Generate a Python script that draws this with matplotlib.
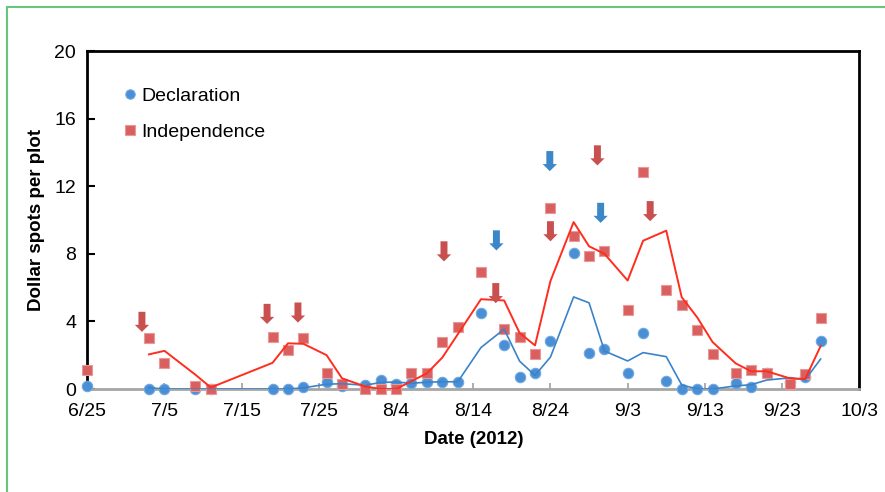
import matplotlib
matplotlib.use("Agg")
import matplotlib.pyplot as plt
import matplotlib.dates as mdates
from matplotlib.patches import FancyArrow
from matplotlib.lines import Line2D
import pandas as pd

plt.rcParams["font.family"] = ["Liberation Sans", "DejaVu Sans"]

# ── Data ──────────────────────────────────────────────────────────────────────
dates = ["2012-06-25", "2012-07-03", "2012-07-05", "2012-07-09", "2012-07-11",
         "2012-07-19", "2012-07-21", "2012-07-23", "2012-07-26", "2012-07-28",
         "2012-07-31", "2012-08-02", "2012-08-04", "2012-08-06", "2012-08-08",
         "2012-08-10", "2012-08-12", "2012-08-15", "2012-08-18", "2012-08-20",
         "2012-08-22", "2012-08-24", "2012-08-27", "2012-08-29", "2012-08-31",
         "2012-09-03", "2012-09-05", "2012-09-08", "2012-09-10", "2012-09-12",
         "2012-09-14", "2012-09-17", "2012-09-19", "2012-09-21", "2012-09-24",
         "2012-09-26", "2012-09-28"]

declaration = [0.15, 0, 0, 0, 0, 0, 0, 0.14, 0.43, 0.2,
               0.25, 0.53, 0.3, 0.38, 0.43, 0.43, 0.43, 4.48, 2.61, 0.69,
               0.93, 2.85, 8.05, 2.15, 2.35, 0.97, 3.34, 0.49, 0, 0,
               0, 0.37, 0.14, 0.92, 0.4, 0.7, 2.85]

independence = [1.1, 3.0, 1.52, 0.18, 0, 3.1, 2.31, 3.04, 0.97, 0.3,
                0, 0, 0, 0.93, 0.93, 2.8, 3.69, 6.94, 3.54, 3.1,
                2.06, 10.72, 9.04, 7.85, 8.15, 4.69, 12.86, 5.88, 4.99, 3.5,
                2.06, 0.97, 1.13, 0.97, 0.3, 0.89, 4.2]

# application arrows: date and value at the arrow's top end
red_arrow_dates = ["2012-07-02 02:00", "2012-07-18 07:00", "2012-07-22 07:00",
                   "2012-08-10 05:00", "2012-08-16 22:00", "2012-08-24",
                   "2012-08-30 02:00", "2012-09-05 22:00"]
red_arrow_tops = [4.57, 5.04, 5.12, 8.74, 6.27, 9.93, 14.42, 11.12]
blue_arrow_dates = ["2012-08-17", "2012-08-23 22:00", "2012-08-30 12:00"]
blue_arrow_tops = [9.39, 14.08, 11.02]

y_ticks = [0, 4, 8, 12, 16, 20]

BLUE_MK = "#4a8fd6"
RED_MK = "#d9605f"
BLUE_LN = "#3b83c9"
RED_LN = "#ff2d1e"
RED_AR = "#c8504e"
BLUE_AR = "#3c87c8"
FRAME = "#6cc47c"

df = pd.DataFrame({"date": pd.to_datetime(dates),
                   "decl": declaration, "indep": independence})
# 2-period moving average trendlines, as in the original chart
decl_ma = df["decl"].rolling(2).mean()
indep_ma = df["indep"].rolling(2).mean()

# ── Figure ───────────────────────────────────────────────────────────────────
fig = plt.figure(figsize=(8.85, 4.92), dpi=100)
ax = fig.add_axes([0.0986, 0.2093, 0.8723, 0.687])

ax.plot(df["date"], df["decl"], "o", ms=7.5, mfc=BLUE_MK, mec="#6fa8e0",
        mew=0.8, label="Declaration", zorder=3, clip_on=False)
ax.plot(df["date"], df["indep"], "s", ms=7.5, mfc=RED_MK, mec="#e89a9a",
        mew=0.8, label="Independence", zorder=4, clip_on=False)
ax.plot(df["date"], decl_ma, color=BLUE_LN, lw=1.2, zorder=5)
ax.plot(df["date"], indep_ma, color=RED_LN, lw=1.4, zorder=5)

AR_LEN = 1.19
for d, top in zip(red_arrow_dates, red_arrow_tops):
    x = mdates.date2num(pd.Timestamp(d))
    ax.add_patch(FancyArrow(x, top, 0, -AR_LEN, width=0.9, head_width=1.85,
                            head_length=0.42, length_includes_head=True,
                            color=RED_AR, lw=0, zorder=6))
for d, top in zip(blue_arrow_dates, blue_arrow_tops):
    x = mdates.date2num(pd.Timestamp(d))
    ax.add_patch(FancyArrow(x, top, 0, -AR_LEN, width=0.9, head_width=1.85,
                            head_length=0.42, length_includes_head=True,
                            color=BLUE_AR, lw=0, zorder=6))

ax.set_xlim(pd.Timestamp("2012-06-25"), pd.Timestamp("2012-10-03"))
ax.set_ylim(0, 20)
x_ticks = pd.date_range("2012-06-25", "2012-10-03", freq="10D")
ax.set_xticks(x_ticks)
ax.set_xticklabels([f"{t.month}/{t.day}" for t in x_ticks])
ax.set_yticks(y_ticks)

ax.tick_params(axis="y", direction="in", length=6, width=1.5, pad=8,
               labelsize=14, color="black")
ax.tick_params(axis="x", direction="in", length=4, width=1.2, pad=10,
               labelsize=14, color="#a0a0a0")

for side in ("left", "top", "right"):
    ax.spines[side].set_linewidth(2)
    ax.spines[side].set_color("black")
ax.spines["bottom"].set_linewidth(2)
ax.spines["bottom"].set_color("#a6a6a6")

ax.set_ylabel("Dollar spots per plot", fontsize=13.5, fontweight="bold",
              labelpad=7)
ax.set_xlabel("Date (2012)", fontsize=13.5, fontweight="bold", labelpad=8)

ax.legend(loc="upper left", bbox_to_anchor=(0.022, 0.945), frameon=False,
          fontsize=14, handlelength=0.8, handletextpad=0.2,
          labelspacing=0.95, markerscale=0.9)

# green outer frame (left and top edges only)
fig.add_artist(Line2D([7 / 885, 7 / 885], [0, 1 - 7 / 492],
                      transform=fig.transFigure, color=FRAME, lw=1.5))
fig.add_artist(Line2D([7 / 885, 1], [1 - 7 / 492, 1 - 7 / 492],
                      transform=fig.transFigure, color=FRAME, lw=1.5))

fig.savefig("out.png", dpi=100, facecolor="white")
